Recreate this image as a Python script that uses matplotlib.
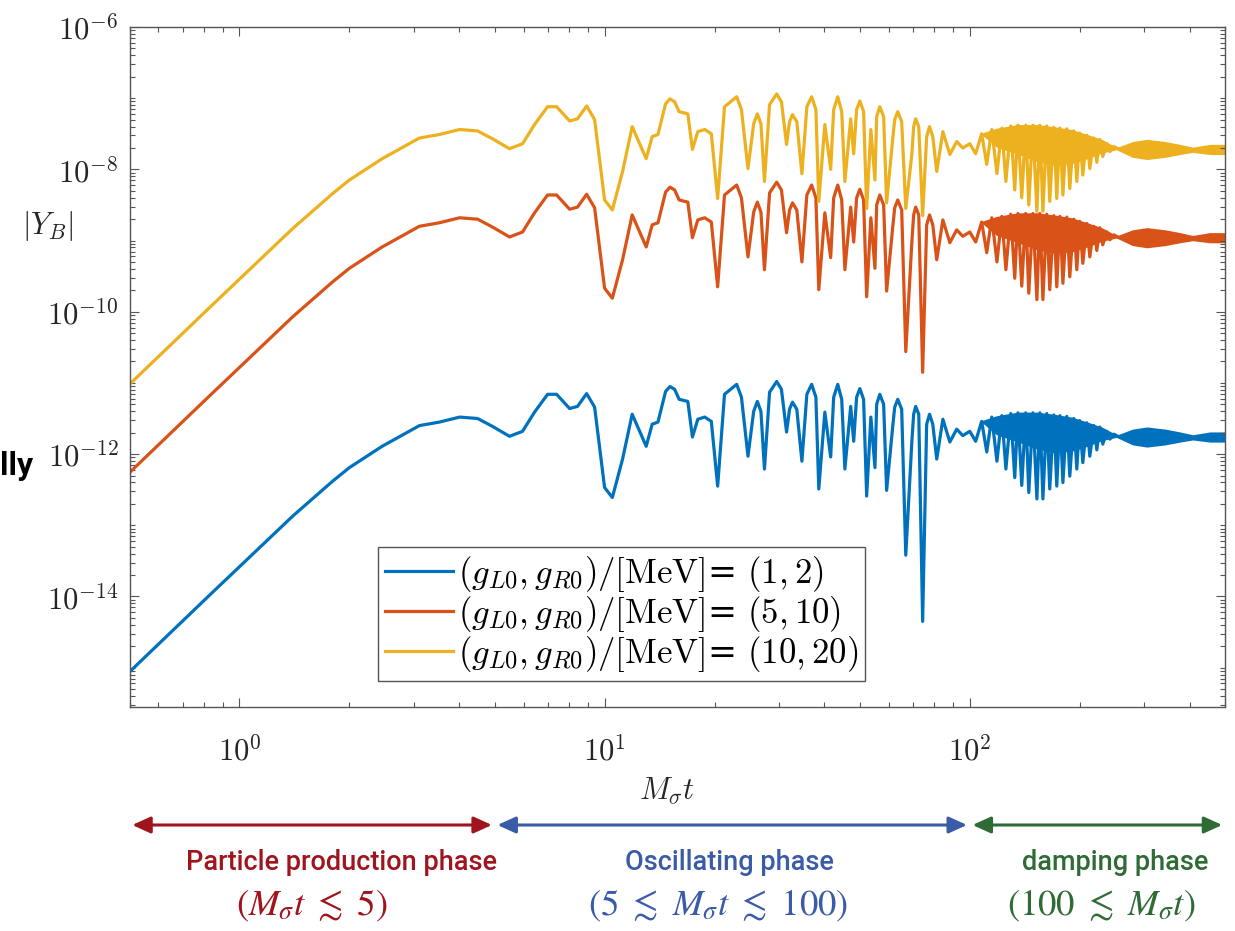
import numpy as np
import matplotlib
matplotlib.use("Agg")
from matplotlib import pyplot as plt
from matplotlib import ticker, transforms

# Canvas (pixels) and axes frame position
FIG_W, FIG_H, DPI = 1235, 931, 100
AX_LEFT, AX_RIGHT, AX_TOP, AX_BOTTOM = 129.5, 1225, 27, 707

LINE_COLORS = ["#0072BD", "#D95319", "#EDB120"]
LEGEND_LABELS = [
    r"$(g_{L0}, g_{R0})/[\mathrm{MeV}]$= $(1, 2)$",
    r"$(g_{L0}, g_{R0})/[\mathrm{MeV}]$= $(5, 10)$",
    r"$(g_{L0}, g_{R0})/[\mathrm{MeV}]$= $(10, 20)$",
]
# decades between each curve and the (1,2) curve
SERIES_SHIFT = [0.0, 2.8, 4.04]

# M_sigma t and log10|Y_B| of the (1,2) curve
T_VALUES = [
    0.5, 0.833, 1.40, 1.80, 2.0, 2.46, 3.11, 3.53, 4.01, 4.49, 4.93, 5.49,
    5.96, 6.43, 6.98, 7.39, 8.02, 8.43, 8.93, 9.39, 10.0, 10.5, 11.2, 11.9,
    13.0, 13.5, 14.0, 14.69, 15.1, 15.55, 16.0, 16.9, 17.4, 18.0, 18.8, 19.6,
    20.4, 21.3, 23.0, 23.7, 24.7, 25.6, 26.2, 26.8, 27.4, 28.3, 29.6, 30.5,
    31.5, 32.1, 32.7, 33.6, 34.7, 35.8, 36.9, 37.9, 38.6, 40.1, 41.6, 42.4,
    43.5, 44.6, 45.5, 47.2, 48.1, 49.0, 50.0, 51.2, 52.2, 53.6, 55.0, 55.6,
    56.7, 58.1, 59.2, 61.5, 62.3, 63.5, 65.1, 66.8, 69.4, 70.2, 71.1, 72.5,
    74.3, 76.2, 77.6, 79.2, 81.2, 84.4, 88.2, 92.1, 95.7, 100.0,
    103.8, 107.8, 111.3, 114.9, 118.7, 122.4, 125.6, 129.5, 132.8, 135.5,
    138.8, 142.3, 145.1, 148.9, 152.7, 155.6, 158.6, 162.5, 165.6, 169.9,
    173.1, 176.6, 179.9, 184.4, 187.9, 192.7, 196.4, 200.0, 204.0, 209.2,
    213.2, 218.7, 222.8, 227.0, 231.3, 237.3, 241.9, 248.1, 254.3,
]
LOG_YB = [
    -15.06, -13.97, -12.87, -12.38, -12.19, -11.89, -11.60, -11.55, -11.48,
    -11.50, -11.61, -11.75, -11.68, -11.41, -11.16, -11.16, -11.36, -11.33,
    -11.15, -11.34, -12.47, -12.61, -12.07, -11.44, -11.89, -11.58, -11.55,
    -11.12, -11.05, -11.09, -11.23, -11.26, -11.76, -11.51, -11.48, -11.54,
    -12.45, -11.16, -11.02, -11.20, -12.03, -11.40, -11.26, -11.40, -12.21,
    -11.13, -10.98, -11.09, -11.69, -11.37, -11.27, -11.37, -12.10, -11.16,
    -11.02, -11.20, -12.49, -11.41, -12.04, -11.20, -11.02, -11.23, -12.21,
    -11.33, -11.82, -11.20, -11.08, -11.23, -12.59, -11.48, -12.19, -11.30,
    -11.16, -11.30, -12.51, -11.62, -11.34, -11.23, -11.37, -13.42, -11.83,
    -11.44, -11.33, -11.44, -14.35, -11.58, -11.44, -11.58, -12.07, -11.51,
    -11.83, -11.65, -11.74, -11.68,
    -11.82, -11.54, -11.97, -11.48, -12.10, -11.46, -12.21, -11.43, -12.33,
    -11.42, -12.44, -11.42, -12.54, -11.42, -12.63, -11.42, -12.63, -11.43,
    -12.49, -11.45, -12.45, -11.46, -12.40, -11.47, -12.31, -11.50, -12.21,
    -11.53, -12.12, -11.56, -12.03, -11.60, -11.94, -11.62, -11.86, -11.68,
    -11.79, -11.72, -11.75,
]

# the two deepest dips are not a plain shift between the curves
DIP_T = [66.8, 74.3]
DIP_LOG_YB = [[-13.42, -14.35], [-10.56, -10.85], [-8.55, -8.65]]

# solid core of the beating region (upper / lower edge, (1,2) curve)
CORE_T = [107.8, 118.7, 135.5, 152.7, 170.0, 190.0, 210.0, 230.0, 254.3]
CORE_HI = [-11.54, -11.47, -11.42, -11.42, -11.45, -11.49, -11.56, -11.63, -11.75]
CORE_LO = [-11.54, -11.72, -11.82, -11.92, -11.97, -11.95, -11.88, -11.80, -11.75]

# fast oscillation after the beats: upper / lower envelope of the (1,2) curve
BAND_T = [254.3, 279.9, 305.6, 342.2, 376.0, 408.0, 454.7, 500.0]
BAND_HI = [-11.75, -11.67, -11.64, -11.67, -11.71, -11.75, -11.71, -11.71]
BAND_LO = [-11.75, -11.85, -11.88, -11.85, -11.81, -11.78, -11.81, -11.81]

PHASE_EDGES = [0.5, 5, 100, 500]
PHASE_NAMES = ["Particle production phase", "Oscillating phase", "damping phase"]
PHASE_RANGES = [
    r"$(M_\sigma t\ \lesssim\ 5)$",
    r"$(5\ \lesssim\ M_\sigma t\ \lesssim\ 100)$",
    r"$(100\ \lesssim\ M_\sigma t)$",
]
PHASE_COLORS = ["#A0141E", "#3A5BA8", "#2F6B35"]
# text centres in canvas pixels
PHASE_NAME_X = [342, 729, 1115]
PHASE_RANGE_X = [312, 718, 1101]

ANNOT_FONT = ["Roboto", "DejaVu Sans"]
TICK_COLOR = "#555555"

plt.rcParams["mathtext.fontset"] = "cm"


def fx(px):
    return px / FIG_W


def fy(py):
    return 1 - py / FIG_H


fig = plt.figure(figsize=(FIG_W / DPI, FIG_H / DPI), dpi=DPI)
ax = fig.add_axes([
    fx(AX_LEFT), fy(AX_BOTTOM),
    (AX_RIGHT - AX_LEFT) / FIG_W, (AX_BOTTOM - AX_TOP) / FIG_H,
])

t = np.array(T_VALUES)
base = np.array(LOG_YB)
assert len(t) == len(base)
for k in range(3):
    shift = SERIES_SHIFT[k]
    color = LINE_COLORS[k]
    logy = base + shift
    for dt, dv in zip(DIP_T, DIP_LOG_YB[k]):
        logy[np.argmin(np.abs(t - dt))] = dv
    ax.plot(t, 10 ** logy, color=color, lw=2.3, label=LEGEND_LABELS[k])
    ax.fill_between(CORE_T, 10 ** (np.array(CORE_HI) + shift),
                    10 ** (np.array(CORE_LO) + shift),
                    facecolor=color, edgecolor=color, lw=1.0)
    ax.fill_between(BAND_T, 10 ** (np.array(BAND_HI) + shift),
                    10 ** (np.array(BAND_LO) + shift),
                    facecolor=color, edgecolor=color, lw=2.2)

ax.set_xscale("log")
ax.set_yscale("log")
ax.set_xlim(0.5, 500)
ax.set_ylim(2.8e-16, 1e-6)

ax.xaxis.set_major_locator(ticker.FixedLocator([1, 10, 100]))
ax.xaxis.set_minor_locator(ticker.LogLocator(base=10, subs=range(2, 10), numticks=50))
ax.yaxis.set_major_locator(ticker.FixedLocator([1e-14, 1e-12, 1e-10, 1e-8, 1e-6]))
ax.yaxis.set_minor_locator(ticker.LogLocator(base=10, subs=range(1, 10), numticks=100))
power_fmt = ticker.FuncFormatter(lambda v, _: r"$10^{%d}$" % round(np.log10(v)))
ax.xaxis.set_major_formatter(power_fmt)
ax.yaxis.set_major_formatter(power_fmt)
ax.xaxis.set_minor_formatter(ticker.NullFormatter())
ax.yaxis.set_minor_formatter(ticker.NullFormatter())

ax.tick_params(which="both", direction="in", top=True, right=True,
               color=TICK_COLOR, width=0.8, labelcolor="#262626", labelsize=22)
ax.tick_params(which="major", length=6.5)
ax.tick_params(which="minor", length=3.5)
ax.tick_params(axis="x", pad=20)
ax.tick_params(axis="y", pad=8)
for spine in ax.spines.values():
    spine.set_color(TICK_COLOR)
    spine.set_linewidth(1.0)

ax.set_xlabel(r"$M_\sigma t$", fontsize=22, color="#262626")
ax.xaxis.set_label_coords(0.491, -0.10)
ax.set_ylabel(r"$|Y_B|$", fontsize=22, color="#262626", rotation=0)
ax.yaxis.set_label_coords(-0.075, 0.707)
ax.yaxis.label.set_verticalalignment("center")
ax.yaxis.label.set_horizontalalignment("center")

ax.legend(loc="lower left", bbox_to_anchor=(0.2268, 0.0382), fontsize=25,
          frameon=True, fancybox=False, framealpha=1, edgecolor=TICK_COLOR,
          handlelength=1.95, handletextpad=0.15, labelspacing=0.0,
          borderpad=0.2, borderaxespad=0)

# phase arrows below the axes: x in data units, y in figure units
arrow_tr = transforms.blended_transform_factory(ax.transData, fig.transFigure)
for i, color in enumerate(PHASE_COLORS):
    ax.annotate(
        "", xy=(PHASE_EDGES[i + 1], fy(825)), xytext=(PHASE_EDGES[i], fy(825)),
        xycoords=arrow_tr, textcoords=arrow_tr, annotation_clip=False,
        arrowprops=dict(arrowstyle="<|-|>,head_length=0.55,head_width=0.25",
                        mutation_scale=20, color=color, lw=2.2,
                        shrinkA=2, shrinkB=2),
    )
    fig.text(fx(PHASE_NAME_X[i]), fy(862), PHASE_NAMES[i], color=color,
             family=ANNOT_FONT, fontsize=19.5, fontweight="medium",
             ha="center", va="center")
    fig.text(fx(PHASE_RANGE_X[i]), fy(905), PHASE_RANGES[i], color=color,
             fontsize=26.5, ha="center", va="center", math_fontfamily="stix")

# leftover of a cropped word at the left border
fig.text(fx(0.5), fy(466), "lly", family=ANNOT_FONT, fontsize=23,
         fontweight="bold", ha="left", va="center")

fig.savefig("out.png", dpi=DPI)
